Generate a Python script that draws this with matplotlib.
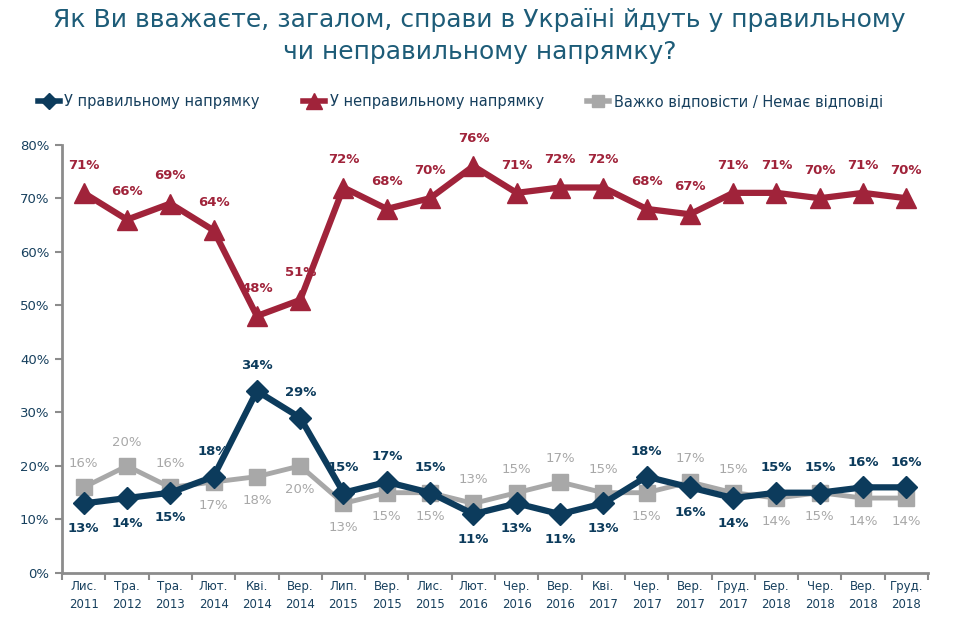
import matplotlib
matplotlib.use("Agg")
import matplotlib.pyplot as plt
from matplotlib.lines import Line2D
import numpy as np

months = ["Лис.\n2011", "Тра.\n2012", "Тра.\n2013", "Лют.\n2014", "Кві.\n2014",
          "Вер.\n2014", "Лип.\n2015", "Вер.\n2015", "Лис.\n2015", "Лют.\n2016",
          "Чер.\n2016", "Вер.\n2016", "Кві.\n2017", "Чер.\n2017", "Вер.\n2017",
          "Груд.\n2017", "Бер.\n2018", "Чер.\n2018", "Вер.\n2018", "Груд.\n2018"]

right_dir = [13, 14, 15, 18, 34, 29, 15, 17, 15, 11, 13, 11, 13, 18, 16, 14, 15, 15, 16, 16]
wrong_dir = [71, 66, 69, 64, 48, 51, 72, 68, 70, 76, 71, 72, 72, 68, 67, 71, 71, 70, 71, 70]
no_answer = [16, 20, 16, 17, 18, 20, 13, 15, 15, 13, 15, 17, 15, 15, 17, 15, 14, 15, 14, 14]

# де ставити підписи: 1 = над точкою, -1 = під точкою
right_side = [-1, -1, -1, 1, 1, 1, 1, 1, 1, -1, -1, -1, -1, 1, -1, -1, 1, 1, 1, 1]
wrong_side = [1] * 20
noans_side = [1, 1, 1, -1, -1, -1, -1, -1, -1, 1, 1, 1, 1, -1, 1, 1, -1, -1, -1, -1]

names = ["У правильному напрямку", "У неправильному напрямку",
         "Важко відповісти / Немає відповіді"]

c_blue = "#0c3b5c"
c_red = "#a0233a"
c_gray = "#a8a8a8"
c_text = "#17405e"

fig = plt.figure(figsize=(9.59, 6.29), dpi=100)
ax = fig.add_axes([0.0647, 0.089, 0.903, 0.681])

x = np.arange(len(months))

series = [
    (no_answer, noans_side, c_gray, "s", 11, 3.5, False, 17),
    (right_dir, right_side, c_blue, "D", 11, 4.5, True, 18),
    (wrong_dir, wrong_side, c_red, "^", 15, 4.5, True, 20),
]
for vals, side, col, mk, ms, lw, bold, off in series:
    ax.plot(x, vals, color=col, marker=mk, markersize=ms, linewidth=lw,
            zorder=3 if col != c_gray else 2)
    for xi, v, s in zip(x, vals, side):
        ax.annotate(f"{v}%", (xi, v), xytext=(0, off * s), textcoords="offset points",
                    ha="center", va="center", fontsize=9.5, color=col,
                    fontweight="bold" if bold else "normal", zorder=4)

ax.set_xlim(-0.5, len(months) - 0.5)
ax.set_ylim(0, 80)
ax.set_yticks(np.arange(0, 81, 10))
ax.set_yticklabels([f"{t}%" for t in range(0, 81, 10)], fontsize=9.5, color=c_text)
ax.set_xticks(x)
ax.set_xticklabels(months, fontsize=8.5, color=c_text, linespacing=1.5)
ax.set_xticks(np.arange(-0.5, len(months), 1), minor=True)
ax.tick_params(axis="x", which="major", length=0, pad=5)
ax.tick_params(axis="x", which="minor", length=5, color="#8c8c8c", width=1.5)
ax.tick_params(axis="y", length=5, color="#8c8c8c", width=1.5, pad=4)
for sp in ["top", "right"]:
    ax.spines[sp].set_visible(False)
for sp in ["left", "bottom"]:
    ax.spines[sp].set_color("#8c8c8c")
    ax.spines[sp].set_linewidth(2)

fig.text(0.5, 0.968, "Як Ви вважаєте, загалом, справи в Україні йдуть у правильному",
         ha="center", va="center", fontsize=18, color="#1d5c78")
fig.text(0.5, 0.918, "чи неправильному напрямку?",
         ha="center", va="center", fontsize=18, color="#1d5c78")

handles = [
    Line2D([], [], color=c_blue, marker="D", markersize=8, linewidth=4),
    Line2D([], [], color=c_red, marker="^", markersize=11, linewidth=4),
    Line2D([], [], color=c_gray, marker="s", markersize=8, linewidth=4),
]
leg = fig.legend(handles, names, loc="center", bbox_to_anchor=(0.48, 0.838), ncol=3,
                 frameon=False, fontsize=10.5, handlelength=1.5, handletextpad=0.3,
                 columnspacing=3.0)
for t in leg.get_texts():
    t.set_color(c_text)

fig.savefig("out.png", dpi=100)
